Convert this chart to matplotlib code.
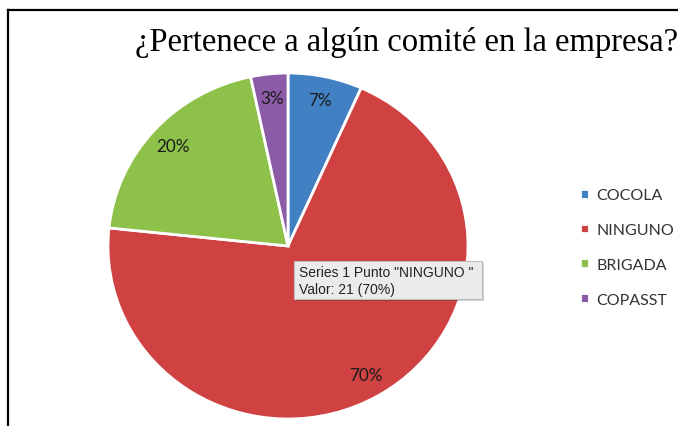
import matplotlib
matplotlib.use("Agg")
import matplotlib.pyplot as plt
from matplotlib.lines import Line2D
from matplotlib.patches import FancyBboxPatch

# datos de la encuesta
categorias = ["COCOLA", "NINGUNO", "BRIGADA", "COPASST"]
valores = [2, 21, 6, 1]
colores = ["#4280C4", "#D04142", "#8EC14A", "#8C5BA8"]
titulo = "¿Pertenece a algún comité en la empresa?"
tooltip = ['Series 1 Punto "NINGUNO "', "Valor: 21 (70%)"]

W, H = 678, 427
fig = plt.figure(figsize=(W / 100, H / 100), dpi=100)

# pie axes (slightly wider than tall, like the original)
ax = fig.add_axes([108 / W, (H - 420) / H, 360 / W, 346 / H])
wedges, texts, autotexts = ax.pie(
    valores, colors=colores, startangle=90, counterclock=False,
    autopct="%1.0f%%", pctdistance=0.86, radius=1,
    wedgeprops=dict(edgecolor="white", linewidth=2),
    textprops=dict(fontsize=12.3, family="Lato", color="#1a1a1a"))
ax.set_aspect("auto")
ax.set_xlim(-1, 1)
ax.set_ylim(-1, 1)
ax.axis("off")

# title
fig.text(135 / W, 1 - 43 / H, titulo, fontsize=23.5, family="Liberation Serif",
         ha="left", va="center", color="black")

# legend
leg = fig.legend(wedges, categorias, loc="upper left",
                 bbox_to_anchor=(566 / W, 1 - 175 / H), frameon=False,
                 handlelength=0.55, handleheight=0.55, handletextpad=0.45,
                 labelspacing=1.3, prop=dict(family="Lato", size=11.5))
for t in leg.get_texts():
    t.set_color("#333333")

# tooltip box
shadow = FancyBboxPatch((296 / W, 1 - 302 / H), 188 / W, 38 / H,
                        boxstyle="square,pad=0", transform=fig.transFigure,
                        facecolor="#00000030", edgecolor="none")
box = FancyBboxPatch((294 / W, 1 - 300 / H), 188 / W, 38 / H,
                     boxstyle="square,pad=0", transform=fig.transFigure,
                     facecolor="#EBEBEB", edgecolor="#BDBDBD", linewidth=0.8)
fig.patches.extend([shadow, box])
fig.text(299 / W, 1 - 273 / H, tooltip[0], fontsize=10, family="Liberation Sans",
         ha="left", va="center", color="#222222")
fig.text(299 / W, 1 - 290 / H, tooltip[1], fontsize=10, family="Liberation Sans",
         ha="left", va="center", color="#222222")

# frame lines (left and top)
fig.lines.append(Line2D([8 / W, 8 / W], [0, 1 - 11 / H], transform=fig.transFigure,
                        color="black", linewidth=1.6))
fig.lines.append(Line2D([8 / W, 1], [1 - 11 / H, 1 - 11 / H], transform=fig.transFigure,
                        color="black", linewidth=1.6))

fig.savefig("out.png", dpi=100)
